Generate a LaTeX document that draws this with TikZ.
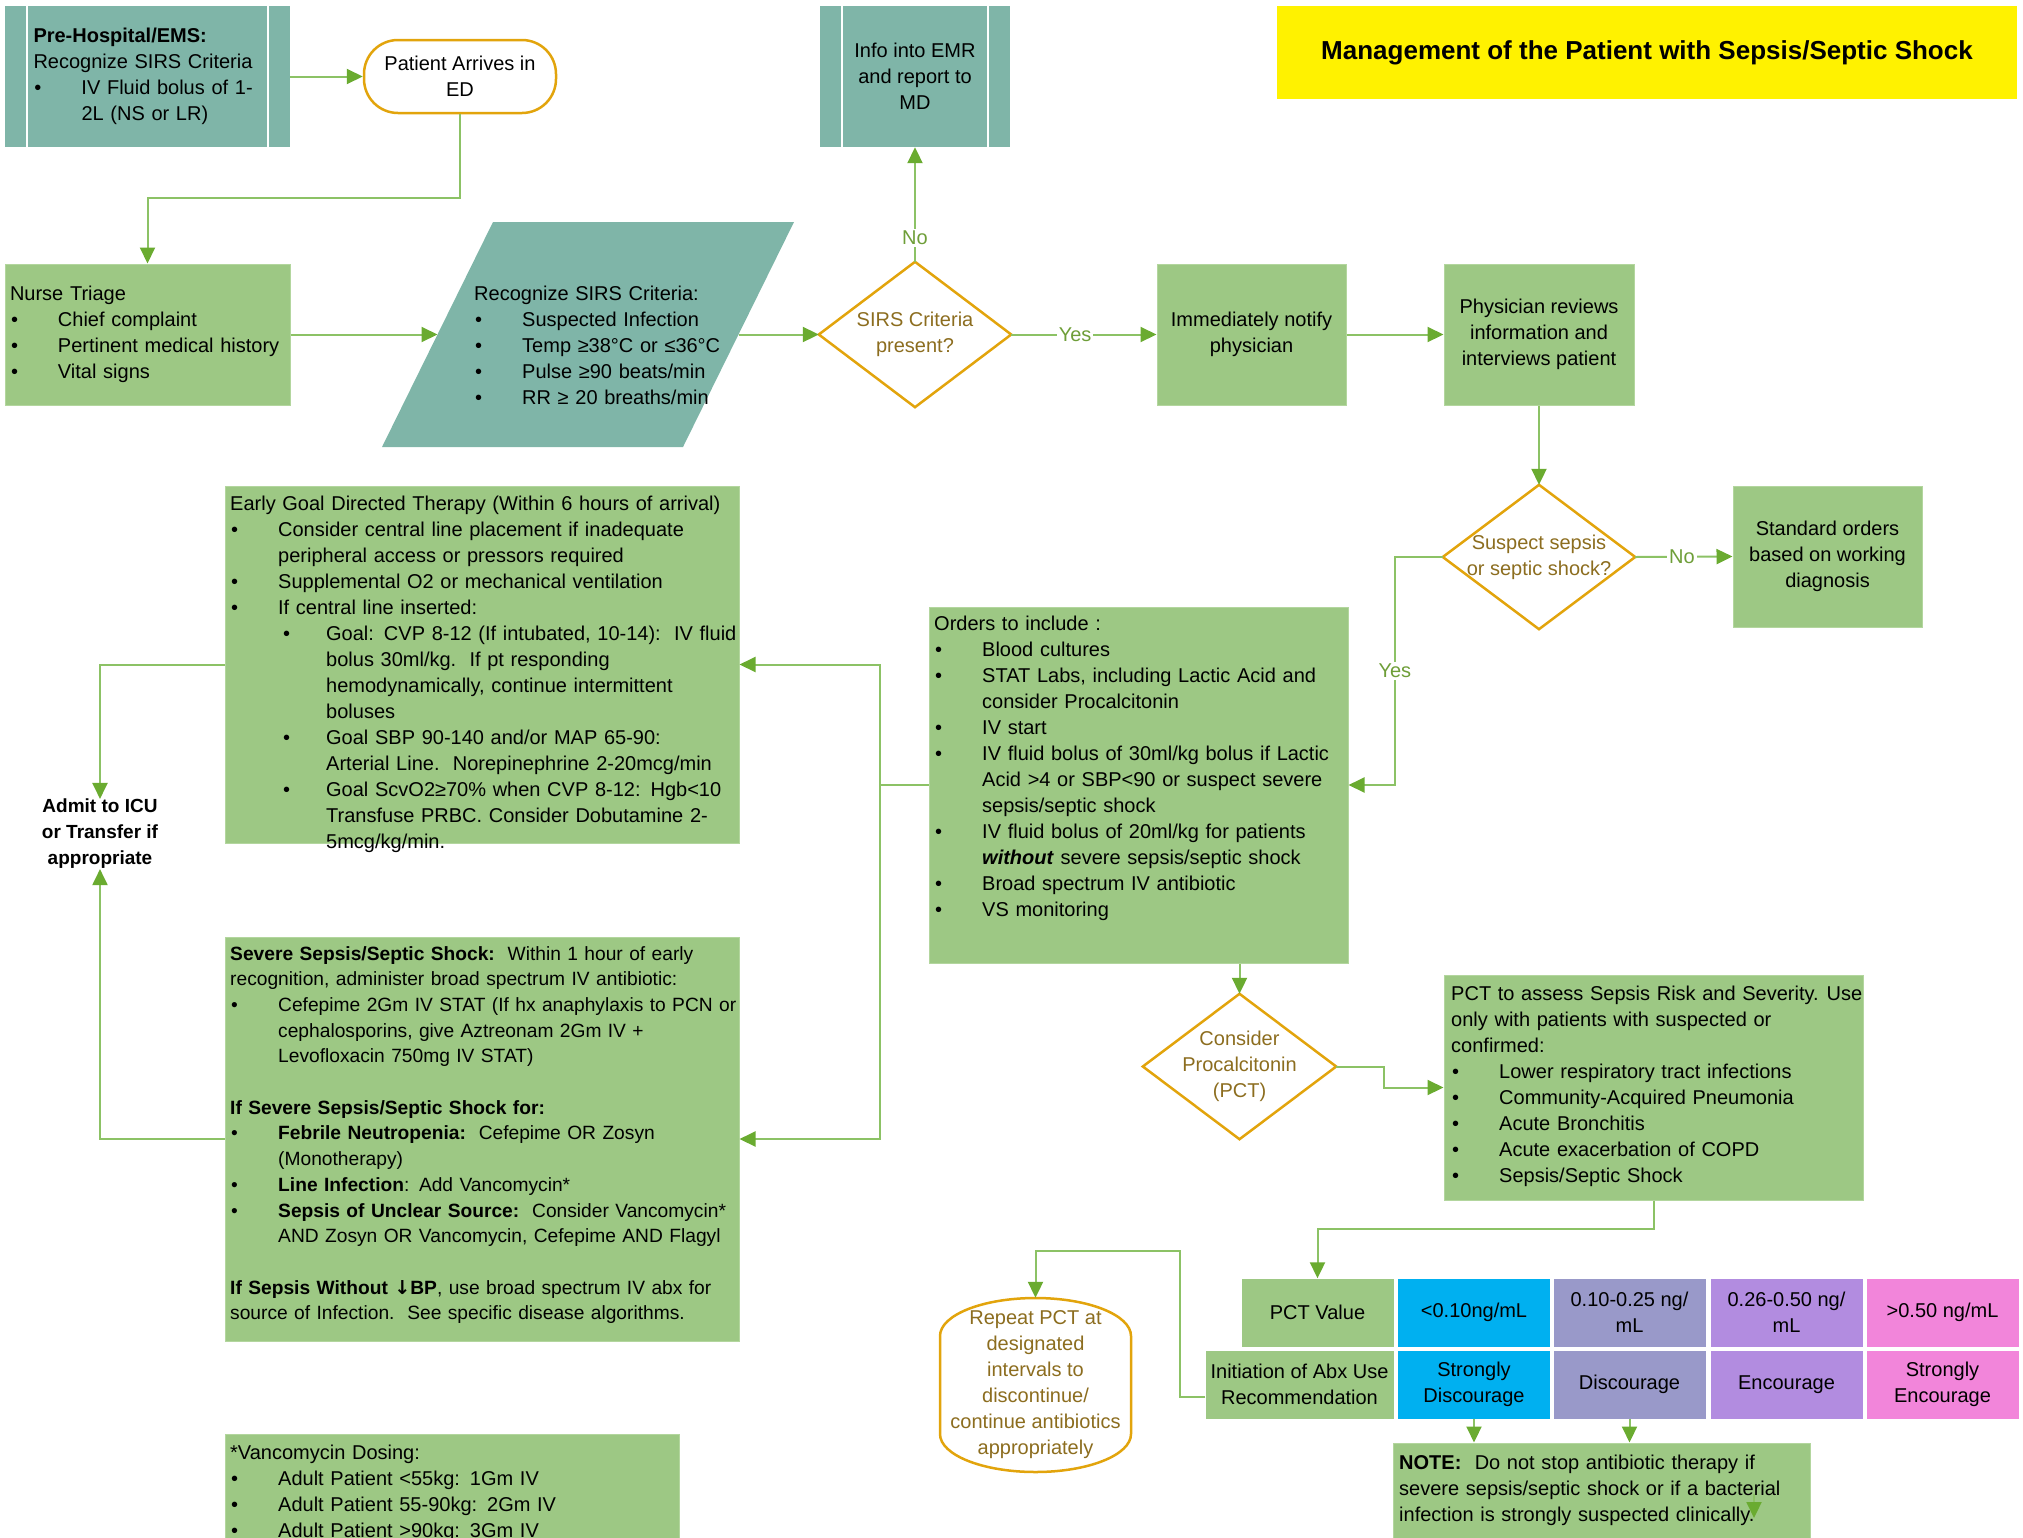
\documentclass[tikz,border=0pt]{standalone}
\usepackage{fontspec}
\setmainfont{Liberation Sans}
\newfontfamily\symfont{DejaVu Sans}
\usetikzlibrary{arrows.meta,shapes.geometric,calc}
\definecolor{teal1}{HTML}{7FB5A8}
\definecolor{green1}{HTML}{9DC884}
\definecolor{green1b}{HTML}{B3D69E}
\definecolor{orng}{HTML}{E2A40C}
\definecolor{brn}{HTML}{8C6D1F}
\definecolor{lnc}{HTML}{8CC265}
\definecolor{arrc}{HTML}{6AAB30}
\definecolor{lblc}{HTML}{6E9E38}
\definecolor{cblue}{HTML}{00B0F0}
\definecolor{cgray}{HTML}{9999C9}
\definecolor{cpurp}{HTML}{B28CE0}
\definecolor{cpink}{HTML}{F285DA}
\newcommand\bl[1]{\par\hangindent=48pt\hangafter=1\noindent\makebox[48pt][l]{\hspace{1pt}\textbullet}#1}
\newcommand\bll[1]{\par\hangindent=96pt\hangafter=1\noindent\hspace*{53pt}\makebox[43pt][l]{\textbullet}#1}
\tikzset{
  fnt/.style={font=\fontsize{20}{26}\selectfont, inner sep=0pt},
  gbox/.style={fnt, rectangle, fill=green1, draw=green1b, line width=1pt},
  tbox/.style={fnt, rectangle, fill=teal1},
  conn/.style={draw=lnc, line width=2pt, -{Triangle[length=16pt,width=15pt,color=arrc]}},
  lbl/.style={fnt, fill=white, text=lblc, inner sep=2pt},
  dia/.style={fnt, rectangle, text=brn, align=center},
  diaedge/.style={draw=orng, line width=2.5pt},
  txt/.style={fnt, anchor=base west, align=left},
  tcell/.style={fnt, rectangle, minimum width=152pt, minimum height=68pt, align=center},
  bar/.style={draw=white, line width=2.5pt}
}
\begin{document}
\begin{tikzpicture}[x=1pt,y=-1pt]
\useasboundingbox (0,0) rectangle (2023,1537);
\clip (0,0) rectangle (2023,1537);

% title
\node[fnt, fill=yellow, minimum width=740pt, minimum height=93pt, font=\fontsize{26}{30}\selectfont\bfseries] (title) at (1647,52.5) {Management of the Patient with Sepsis/Septic Shock};

% pre-hospital
\node[tbox, minimum width=285pt, minimum height=141pt, text width=228pt, align=left] (pre) at (147.5,76.5) {\textbf{Pre-Hospital/EMS:}\par Recognize SIRS Criteria\bl{IV Fluid bolus of 1-\newline 2L (NS or LR)}\par};
\draw[bar] ([xshift=22pt]pre.north west) -- ([xshift=22pt]pre.south west);
\draw[bar] ([xshift=-22pt]pre.north east) -- ([xshift=-22pt]pre.south east);

% patient arrives
\node[fnt, draw=orng, fill=white, line width=2.5pt, rounded corners=34pt, minimum width=192pt, minimum height=73pt, align=center] (pat) at (460,76.5) {Patient Arrives in\\ED};

% info into EMR
\node[tbox, minimum width=190pt, minimum height=141pt, align=center] (info) at (915,76.5) {Info into EMR\\and report to\\MD};
\draw[bar] ([xshift=22pt]info.north west) -- ([xshift=22pt]info.south west);
\draw[bar] ([xshift=-22pt]info.north east) -- ([xshift=-22pt]info.south east);

% nurse triage
\node[gbox, minimum width=285pt, minimum height=141pt, text width=275pt, align=left] (nurse) at (147.5,334.5) {Nurse Triage\bl{Chief complaint}\bl{Pertinent medical history}\bl{Vital signs}\par};

% parallelogram
\fill[teal1] (493,222) -- (794,222) -- (683,447) -- (382,447) -- cycle;
\coordinate (paraW) at (437.5,334.5);
\coordinate (paraE) at (738.5,334.5);
\node[txt, text width=320pt] (paratxt) at (474,300) {Recognize SIRS Criteria:\bl{Suspected Infection}\bl{Temp ≥38°C or ≤36°C}\bl{Pulse ≥90 beats/min}\bl{RR ≥ 20 breaths/min}\par};

% SIRS diamond
\node[dia, minimum width=192pt, minimum height=145pt] (sirs) at (915,334.5) {SIRS Criteria\\present?};
\draw[diaedge] (sirs.north) -- (sirs.east) -- (sirs.south) -- (sirs.west) -- cycle;

% notify / physician
\node[gbox, minimum width=189pt, minimum height=141pt, align=center] (notify) at (1251.5,334.5) {Immediately notify\\physician};
\node[gbox, minimum width=190pt, minimum height=141pt, align=center] (phys) at (1539,334.5) {Physician reviews\\information and\\interviews patient};

% suspect diamond
\node[dia, minimum width=192pt, minimum height=144pt] (susp) at (1539,557) {Suspect sepsis\\or septic shock?};
\draw[diaedge] (susp.north) -- (susp.east) -- (susp.south) -- (susp.west) -- cycle;
\node[gbox, minimum width=189pt, minimum height=141pt, align=center] (std) at (1827.5,556.5) {Standard orders\\based on working\\diagnosis};

% orders
\node[gbox, minimum width=419pt, minimum height=356pt] (orders) at (1138.5,785) {};
\node[txt, text width=430pt] (orderstxt) at (934,630) {Orders to include :\bl{Blood cultures}\bl{STAT Labs, including Lactic Acid and\newline consider Procalcitonin}\bl{IV start}\bl{IV fluid bolus of 30ml/kg bolus if Lactic\newline Acid >4 or SBP<90 or suspect severe\newline sepsis/septic shock}\bl{IV fluid bolus of 20ml/kg for patients\newline \textbf{\textit{without}} severe sepsis/septic shock}\bl{Broad spectrum IV antibiotic}\bl{VS monitoring}\par};

% EGDT
\node[gbox, minimum width=514pt, minimum height=357pt] (egdt) at (482,664.5) {};
\node[txt, text width=560pt] (egdttxt) at (230,510) {Early Goal Directed Therapy (Within 6 hours of arrival)\bl{Consider central line placement if inadequate\newline peripheral access or pressors required}\bl{Supplemental O2 or mechanical ventilation}\bl{If central line inserted:}\bll{Goal: CVP 8-12 (If intubated, 10-14):\ \ IV fluid\newline bolus 30ml/kg.\ \ If pt responding\newline hemodynamically, continue intermittent\newline boluses}\bll{Goal SBP 90-140 and/or MAP 65-90:\newline Arterial Line.\ \ Norepinephrine 2-20mcg/min}\bll{Goal ScvO2≥70\% when CVP 8-12: Hgb<10\newline Transfuse PRBC. Consider Dobutamine 2-\newline 5mcg/kg/min.}\par};

% severe sepsis
\node[gbox, minimum width=514pt, minimum height=404pt] (severe) at (482,1139) {};
\node[txt, text width=560pt, font=\fontsize{19.2}{25.7}\selectfont] (severetxt) at (230,960) {\textbf{Severe Sepsis/Septic Shock:}\ \ Within 1 hour of early\newline recognition, administer broad spectrum IV antibiotic:\bl{Cefepime 2Gm IV STAT (If hx anaphylaxis to PCN or\newline cephalosporins, give Aztreonam 2Gm IV +\newline Levofloxacin 750mg IV STAT)}\par\mbox{}\par\textbf{If Severe Sepsis/Septic Shock for:}\bl{\textbf{Febrile Neutropenia:}\ \ Cefepime OR Zosyn\newline (Monotherapy)}\bl{\textbf{Line Infection}: Add Vancomycin*}\bl{\textbf{Sepsis of Unclear Source:}\ \ Consider Vancomycin*\newline AND Zosyn OR Vancomycin, Cefepime AND Flagyl}\par\mbox{}\par\textbf{If Sepsis Without {\symfont ↓}BP}, use broad spectrum IV abx for\newline source of Infection.\ \ See specific disease algorithms.\par};

% vancomycin
\node[gbox, minimum width=454pt, minimum height=126pt] (vanco) at (452,1497) {};
\node[txt, text width=460pt] (vancotxt) at (230,1459) {*Vancomycin Dosing:\bl{Adult Patient <55kg: 1Gm IV}\bl{Adult Patient 55-90kg: 2Gm IV}\bl{Adult Patient >90kg: 3Gm IV}\par};

% admit
\node[fnt, font=\fontsize{19}{26}\selectfont\bfseries, align=center] (admit) at (100,834) {Admit to ICU\\or Transfer if\\appropriate};

% consider PCT
\node[dia, minimum width=193pt, minimum height=145pt] (cons) at (1239.5,1066.5) {Consider\\Procalcitonin\\(PCT)};
\draw[diaedge] (cons.north) -- (cons.east) -- (cons.south) -- (cons.west) -- cycle;
\node[gbox, minimum width=419pt, minimum height=225pt] (pct) at (1653.5,1087.5) {};
\node[txt, text width=430pt] (pcttxt) at (1451,1000) {PCT to assess Sepsis Risk and Severity.\hspace{8pt}Use\newline only with patients with suspected or\newline confirmed:\bl{Lower respiratory tract infections}\bl{Community-Acquired Pneumonia}\bl{Acute Bronchitis}\bl{Acute exacerbation of COPD}\bl{Sepsis/Septic Shock}\par};

% table
\node[tcell, fill=green1] (pctval) at (1317.5,1312.5) {PCT Value};
\node[tcell, fill=green1, minimum width=188pt] (init) at (1299.5,1384.5) {Initiation of Abx Use\\Recommendation};
\node[tcell, fill=cblue] (c1a) at (1474,1312.5) {<0.10ng/mL};
\node[tcell, fill=cgray] (c2a) at (1629.5,1312.5) {0.10-0.25 ng/\\mL};
\node[tcell, fill=cpurp] (c3a) at (1786.5,1312.5) {0.26-0.50 ng/\\mL};
\node[tcell, fill=cpink] (c4a) at (1942.5,1312.5) {>0.50 ng/mL};
\node[tcell, fill=cblue] (c1b) at (1474,1384.5) {Strongly\\Discourage};
\node[tcell, fill=cgray] (c2b) at (1629.5,1384.5) {Discourage};
\node[tcell, fill=cpurp] (c3b) at (1786.5,1384.5) {Encourage};
\node[tcell, fill=cpink] (c4b) at (1942.5,1384.5) {Strongly\\Encourage};

% note
\node[gbox, minimum width=417pt, minimum height=117pt] (note) at (1601.5,1501.5) {};
\node[txt, text width=430pt] (notetxt) at (1399,1469) {\textbf{NOTE:}\ \ Do not stop antibiotic therapy if\newline severe sepsis/septic shock or if a bacterial\newline infection is strongly suspected clinically.\par};

% repeat PCT
\draw[orng, line width=2.5pt, fill=white] (940,1336) arc[start angle=180, end angle=0, x radius=95.5pt, y radius=38pt] -- (1131,1434) arc[start angle=0, end angle=-180, x radius=95.5pt, y radius=38pt] -- cycle;
\node[fnt, text=brn, align=center, minimum width=191pt, minimum height=174pt] (repeat) at (1035.5,1385) {Repeat PCT at\\designated\\intervals to\\discontinue/\\continue antibiotics\\appropriately};

% connectors
\draw[conn] (pre.east) -- (pat.west);
\draw[conn] (pat.south) -- ++(0,84) -| (nurse.north);
\draw[conn] (nurse.east) -- (paraW);
\draw[conn] (paraE) -- (sirs.west);
\draw[conn] (sirs.north) -- node[lbl,pos=0.21]{No} (info.south);
\draw[conn] (sirs.east) -- node[lbl,pos=0.44]{Yes} (notify.west);
\draw[conn] (notify.east) -- (phys.west);
\draw[conn] (phys.south) -- (susp.north);
\draw[conn] (susp.east) -- node[lbl,pos=0.48]{No} (std.west);
\draw[conn] (susp.west) -- ++(-48,0) |- node[lbl,pos=0.25]{Yes} (orders.east);
\draw[conn] (orders.west) -- ++(-49,0) |- (egdt.east);
\draw[conn] (orders.west) -- ++(-49,0) |- (severe.east);
\draw[conn] (egdt.west) -| (admit.north);
\draw[conn] (severe.west) -| (admit.south);
\draw[conn] (cons.north |- orders.south) -- (cons.north);
\draw[conn] (cons.east) -- ++(48,0) |- (pct.west);
\draw[conn] (pct.south) -- ++(0,28) -| (pctval.north);
\coordinate (rpbend) at (1180,1251);
\draw[conn] ([yshift=-12pt]init.west) -| (rpbend) -| (repeat.north);
\draw[conn] (c1b.south) -- (c1b.south |- note.north);
\draw[conn] (c2b.south) -- (c2b.south |- note.north);
\coordinate (sa1) at (1754,1494);
\coordinate (sa2) at (1754,1518);
\draw[conn] (sa1) -- (sa2);
\end{tikzpicture}
\end{document}
